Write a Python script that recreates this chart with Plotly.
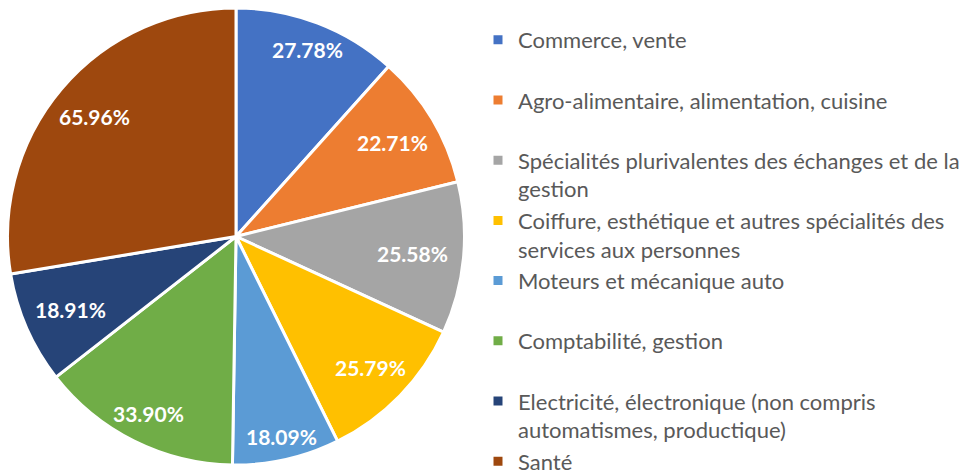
import math
import textwrap
import plotly.graph_objects as go

# ---- data ----
categories = [
    "Commerce, vente",
    "Agro-alimentaire, alimentation, cuisine",
    "Spécialités plurivalentes des échanges et de la gestion",
    "Coiffure, esthétique et autres spécialités des services aux personnes",
    "Moteurs et mécanique auto",
    "Comptabilité, gestion",
    "Electricité, électronique (non compris automatismes, productique)",
    "Santé",
]
values = [27.78, 22.71, 25.58, 25.79, 18.09, 33.90, 18.91, 65.96]
colors = ["#4472C4", "#ED7D31", "#A5A5A5", "#FFC000",
          "#5B9BD5", "#70AD47", "#264478", "#9E480E"]

W, H = 968, 475

# legend labels: wrap long names, pad to two lines so entries are evenly spaced
legend_labels = []
for i, c in enumerate(categories):
    lines = textwrap.wrap(c, width=47)
    if len(lines) < 2 and i < len(categories) - 1:
        lines.append("\u00a0")
    legend_labels.append("<br>".join(lines))

# pie geometry (pixels)
cx_px, cy_px, R_px = 236.0, 236.5, 228.5
dom_x = [(cx_px - R_px) / W, (cx_px + R_px) / W]
dom_y = [1 - (cy_px + R_px) / H, 1 - (cy_px - R_px) / H]

fig = go.Figure(go.Pie(
    labels=legend_labels,
    values=values,
    sort=False,
    direction="clockwise",
    rotation=0,
    marker=dict(colors=colors, line=dict(color="white", width=3)),
    textinfo="none",
    hoverinfo="label+value",
    domain=dict(x=dom_x, y=dom_y),
))

# data labels placed at each slice's mid-angle
total = sum(values)
half_label_w = 36.0
R_vis = 227.0
annotations = []
cum = 0.0
for v in values:
    mid = (cum + v / 2) / total * 2 * math.pi
    cum += v
    rho = 0.94 * R_vis - half_label_w * abs(math.sin(mid))
    x_px = cx_px + rho * math.sin(mid)
    y_px = cy_px - rho * math.cos(mid)
    annotations.append(dict(
        x=x_px / W, y=1 - y_px / H, xref="paper", yref="paper",
        text=f"<b>{v:.2f}%</b>", showarrow=False,
        xanchor="center", yanchor="middle",
        font=dict(family="Lato", size=21, color="white"),
    ))

fig.update_layout(
    width=W, height=H,
    margin=dict(l=0, r=0, t=0, b=0, autoexpand=False),
    paper_bgcolor="white",
    plot_bgcolor="white",
    showlegend=True,
    legend=dict(
        x=478 / W, xanchor="left",
        y=1 - 19 / H, yanchor="top",
        valign="top",
        font=dict(family="Lato", size=22, color="#595959"),
        bgcolor="rgba(0,0,0,0)",
        borderwidth=0,
    ),
    annotations=annotations,
)

fig.write_html("out.html", config={"displayModeBar": False},
               post_script="document.body.style.margin='0';")
